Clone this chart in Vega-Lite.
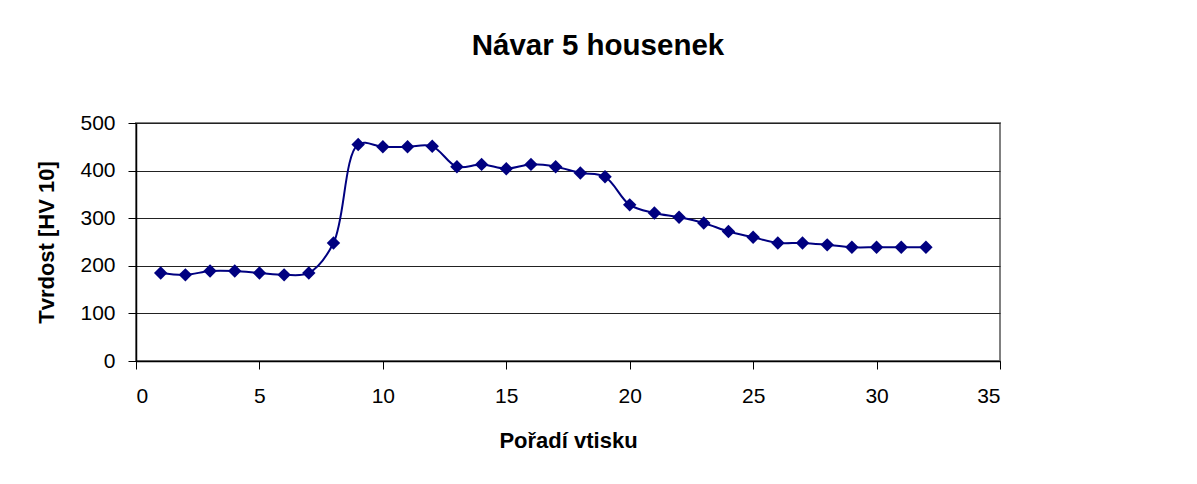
{
  "$schema": "https://vega.github.io/schema/vega-lite/v6.json",
  "autosize": "none",
  "width": 864,
  "height": 238,
  "padding": {"left": 136, "top": 123, "right": 197, "bottom": 123},
  "background": "white",
  "title": {
    "text": "Návar 5 housenek",
    "font": "Liberation Sans",
    "fontSize": 29.5,
    "fontWeight": "bold",
    "color": "black",
    "anchor": "middle",
    "frame": "group",
    "baseline": "alphabetic",
    "offset": 28,
    "dx": 30
  },
  "config": {
    "view": {"stroke": "#808080", "strokeWidth": 2},
    "axis": {
      "labelFont": "Liberation Sans",
      "labelFontSize": 21,
      "labelColor": "black",
      "titleFont": "Liberation Sans",
      "titleFontSize": 22,
      "titleFontWeight": "bold",
      "titleColor": "black",
      "domainColor": "black",
      "domainWidth": 1.5,
      "tickColor": "black",
      "tickSize": 8,
      "tickWidth": 1,
      "gridColor": "#222222",
      "gridWidth": 1,
      "gridOpacity": 1
    }
  },
  "data": {
    "values": [
      {"n": 1, "hv": 185}, {"n": 2, "hv": 181}, {"n": 3, "hv": 189}, {"n": 4, "hv": 189},
      {"n": 5, "hv": 185}, {"n": 6, "hv": 181}, {"n": 7, "hv": 185}, {"n": 8, "hv": 248},
      {"n": 9, "hv": 455}, {"n": 10, "hv": 450}, {"n": 11, "hv": 450}, {"n": 12, "hv": 451},
      {"n": 13, "hv": 408}, {"n": 14, "hv": 413}, {"n": 15, "hv": 404}, {"n": 16, "hv": 413},
      {"n": 17, "hv": 408}, {"n": 18, "hv": 395}, {"n": 19, "hv": 387}, {"n": 20, "hv": 328},
      {"n": 21, "hv": 311}, {"n": 22, "hv": 302}, {"n": 23, "hv": 290}, {"n": 24, "hv": 272},
      {"n": 25, "hv": 260}, {"n": 26, "hv": 248}, {"n": 27, "hv": 248}, {"n": 28, "hv": 244},
      {"n": 29, "hv": 239}, {"n": 30, "hv": 239}, {"n": 31, "hv": 239}, {"n": 32, "hv": 239}
    ]
  },
  "encoding": {
    "x": {
      "field": "n",
      "type": "quantitative",
      "scale": {"domain": [0, 35], "nice": false, "zero": false},
      "axis": {
        "values": [0, 5, 10, 15, 20, 25, 30, 35],
        "grid": false,
        "title": "Pořadí vtisku",
        "labelPadding": 16,
        "titlePadding": 24
      }
    },
    "y": {
      "field": "hv",
      "type": "quantitative",
      "scale": {"domain": [0, 500], "nice": false},
      "axis": {
        "values": [0, 100, 200, 300, 400, 500],
        "grid": true,
        "title": "Tvrdost [HV 10]",
        "labelPadding": 13,
        "titlePadding": 21
      }
    }
  },
  "layer": [
    {
      "mark": {"type": "line", "interpolate": "catmull-rom", "color": "#000080", "strokeWidth": 2}
    },
    {
      "mark": {"type": "point", "shape": "diamond", "filled": true, "size": 180, "color": "#000080", "opacity": 1}
    }
  ]
}
